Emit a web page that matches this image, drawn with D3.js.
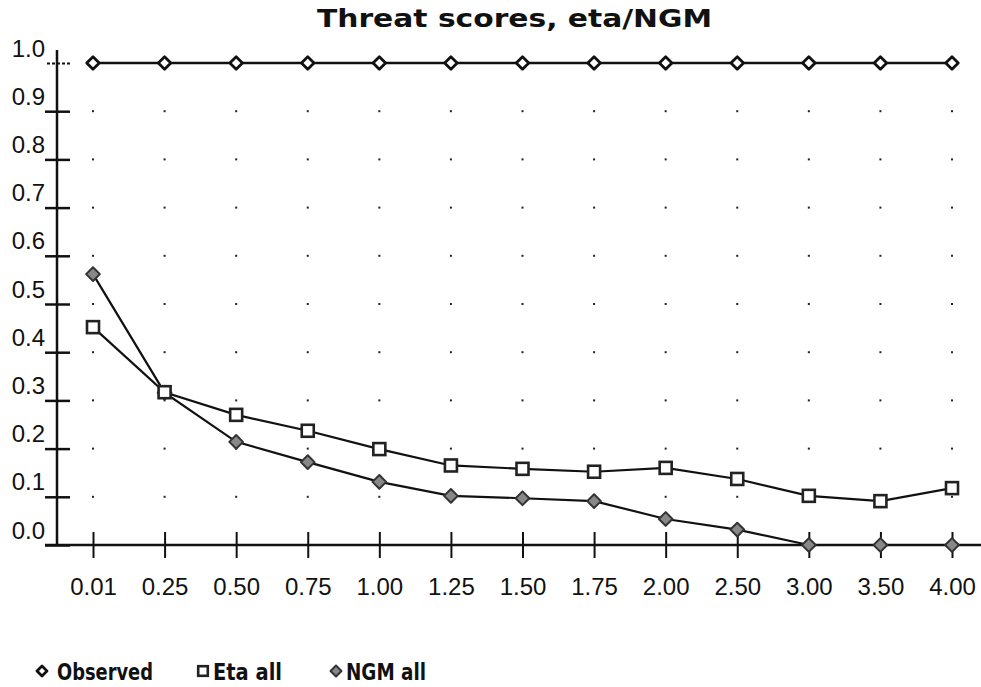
<!DOCTYPE html>
<html>
<head>
<meta charset="utf-8">
<script src="https://cdn.jsdelivr.net/npm/d3@7"></script>
<style>
  body { margin: 0; background: #fff; }
  svg { display: block; }
  .tick text { font-family: "Liberation Sans", Arial, sans-serif; font-size: 24px; fill: #111; }
</style>
</head>
<body>
<svg id="chart" width="981" height="687"></svg>
<script>
// thresholds (inches) on the x axis
const thresholds = ["0.01", "0.25", "0.50", "0.75", "1.00", "1.25", "1.50", "1.75", "2.00", "2.50", "3.00", "3.50", "4.00"];
const yTicks = [0, 0.1, 0.2, 0.3, 0.4, 0.5, 0.6, 0.7, 0.8, 0.9, 1.0];

// threat scores
const observed = [1, 1, 1, 1, 1, 1, 1, 1, 1, 1, 1, 1, 1];
const etaAll = [0.452, 0.317, 0.270, 0.237, 0.199, 0.165, 0.158, 0.152, 0.160, 0.137, 0.102, 0.091, 0.118];
const ngmAll = [0.562, 0.316, 0.214, 0.172, 0.131, 0.102, 0.097, 0.091, 0.054, 0.032, 0, 0, 0];

const series = [
  { name: "Observed", values: observed, marker: "open" },
  { name: "Eta all", values: etaAll, marker: "square" },
  { name: "NGM all", values: ngmAll, marker: "filled" }
];

const svg = d3.select("#chart");

const x = d3.scalePoint().domain(thresholds).range([93, 952]);
const y = d3.scaleLinear().domain([0, 1]).range([545, 63]);

// title
svg.append("text")
  .attr("x", 317).attr("y", 27)
  .attr("textLength", 395)
  .attr("lengthAdjust", "spacingAndGlyphs")
  .style("font-family", "'DejaVu Sans', sans-serif")
  .style("font-weight", "bold")
  .style("font-size", "24px")
  .attr("fill", "#111")
  .text("Threat scores, eta/NGM");

// dotted grid: one dot per category and tick level
const gridLevels = yTicks.filter(v => v > 0 && v < 1);
const dots = [];
thresholds.forEach(t => gridLevels.forEach(v => dots.push([t, v])));
svg.append("g").selectAll("rect")
  .data(dots)
  .join("rect")
  .attr("x", d => x(d[0]) - 1)
  .attr("y", d => y(d[1]) - 1)
  .attr("width", 2).attr("height", 2)
  .attr("fill", "#222");

// y axis
const yAxis = svg.append("g")
  .attr("transform", "translate(57,0)")
  .call(d3.axisLeft(y).tickValues(yTicks).tickSize(12).tickFormat(d3.format(".1f")));
yAxis.select(".domain").remove();
yAxis.selectAll(".tick line").attr("x1", 13).attr("stroke", "#111").attr("stroke-width", 2.5);
yAxis.selectAll(".tick").filter(d => d === 1).select("line").attr("stroke-dasharray", "3,2").attr("stroke-width", 2);
yAxis.selectAll(".tick text").attr("dy", null).attr("x", -12).attr("y", -7);
svg.append("line")
  .attr("x1", 57).attr("x2", 57).attr("y1", 50).attr("y2", 546)
  .attr("stroke", "#111").attr("stroke-width", 2.5);

// x axis
const xAxis = svg.append("g")
  .attr("transform", "translate(0,545)")
  .call(d3.axisBottom(x).tickSize(13));
xAxis.select(".domain").remove();
xAxis.selectAll(".tick line").attr("y1", -13).attr("stroke", "#111").attr("stroke-width", 2);
xAxis.selectAll(".tick text").attr("dy", null).attr("y", 50);
svg.append("line")
  .attr("x1", 45).attr("x2", 981).attr("y1", 545).attr("y2", 545)
  .attr("stroke", "#111").attr("stroke-width", 2.5);

// marker drawing
function drawMarker(g, type, size) {
  const s = size || 1;
  if (type === "square") {
    g.append("rect")
      .attr("x", -6 * s).attr("y", -6 * s)
      .attr("width", 12 * s).attr("height", 12 * s)
      .attr("fill", "#fff").attr("stroke", "#222").attr("stroke-width", 2.6);
  } else if (type === "open") {
    g.append("path")
      .attr("d", d3.symbol(d3.symbolDiamond2, 100 * s * s)())
      .attr("fill", "#fff").attr("stroke", "#111").attr("stroke-width", 2.8)
      .attr("stroke-linejoin", "round");
  } else {
    g.append("path")
      .attr("d", d3.symbol(d3.symbolDiamond2, 120 * s * s)())
      .attr("fill", "#888").attr("stroke", "#333").attr("stroke-width", 2)
      .attr("stroke-linejoin", "round");
  }
}

const line = d3.line()
  .x((d, i) => x(thresholds[i]))
  .y(d => y(d));

series.forEach(s => {
  svg.append("path")
    .datum(s.values)
    .attr("d", line)
    .attr("fill", "none")
    .attr("stroke", "#111")
    .attr("stroke-width", s.marker === "open" ? 2.6 : 2.2);
});

series.slice().reverse().forEach(s => {
  svg.append("g").selectAll("g")
    .data(s.values)
    .join("g")
    .attr("transform", (d, i) => `translate(${x(thresholds[i])},${y(d)})`)
    .each(function () { drawMarker(d3.select(this), s.marker); });
});

// legend
const legendX = [42, 203, 336];
const legendW = [96, 69, 80];
const legend = svg.append("g");
series.forEach((s, i) => {
  const item = legend.append("g").attr("transform", `translate(${legendX[i]},671)`);
  drawMarker(item.append("g"), s.marker, 0.8);
  item.append("text")
    .attr("x", i === 0 ? 15 : 10).attr("y", 9)
    .attr("textLength", legendW[i])
    .attr("lengthAdjust", "spacingAndGlyphs")
    .style("font-family", "'DejaVu Sans', sans-serif")
    .style("font-weight", "bold")
    .style("font-size", "23px")
    .attr("fill", "#111")
    .text(s.name);
});
</script>
</body>
</html>
